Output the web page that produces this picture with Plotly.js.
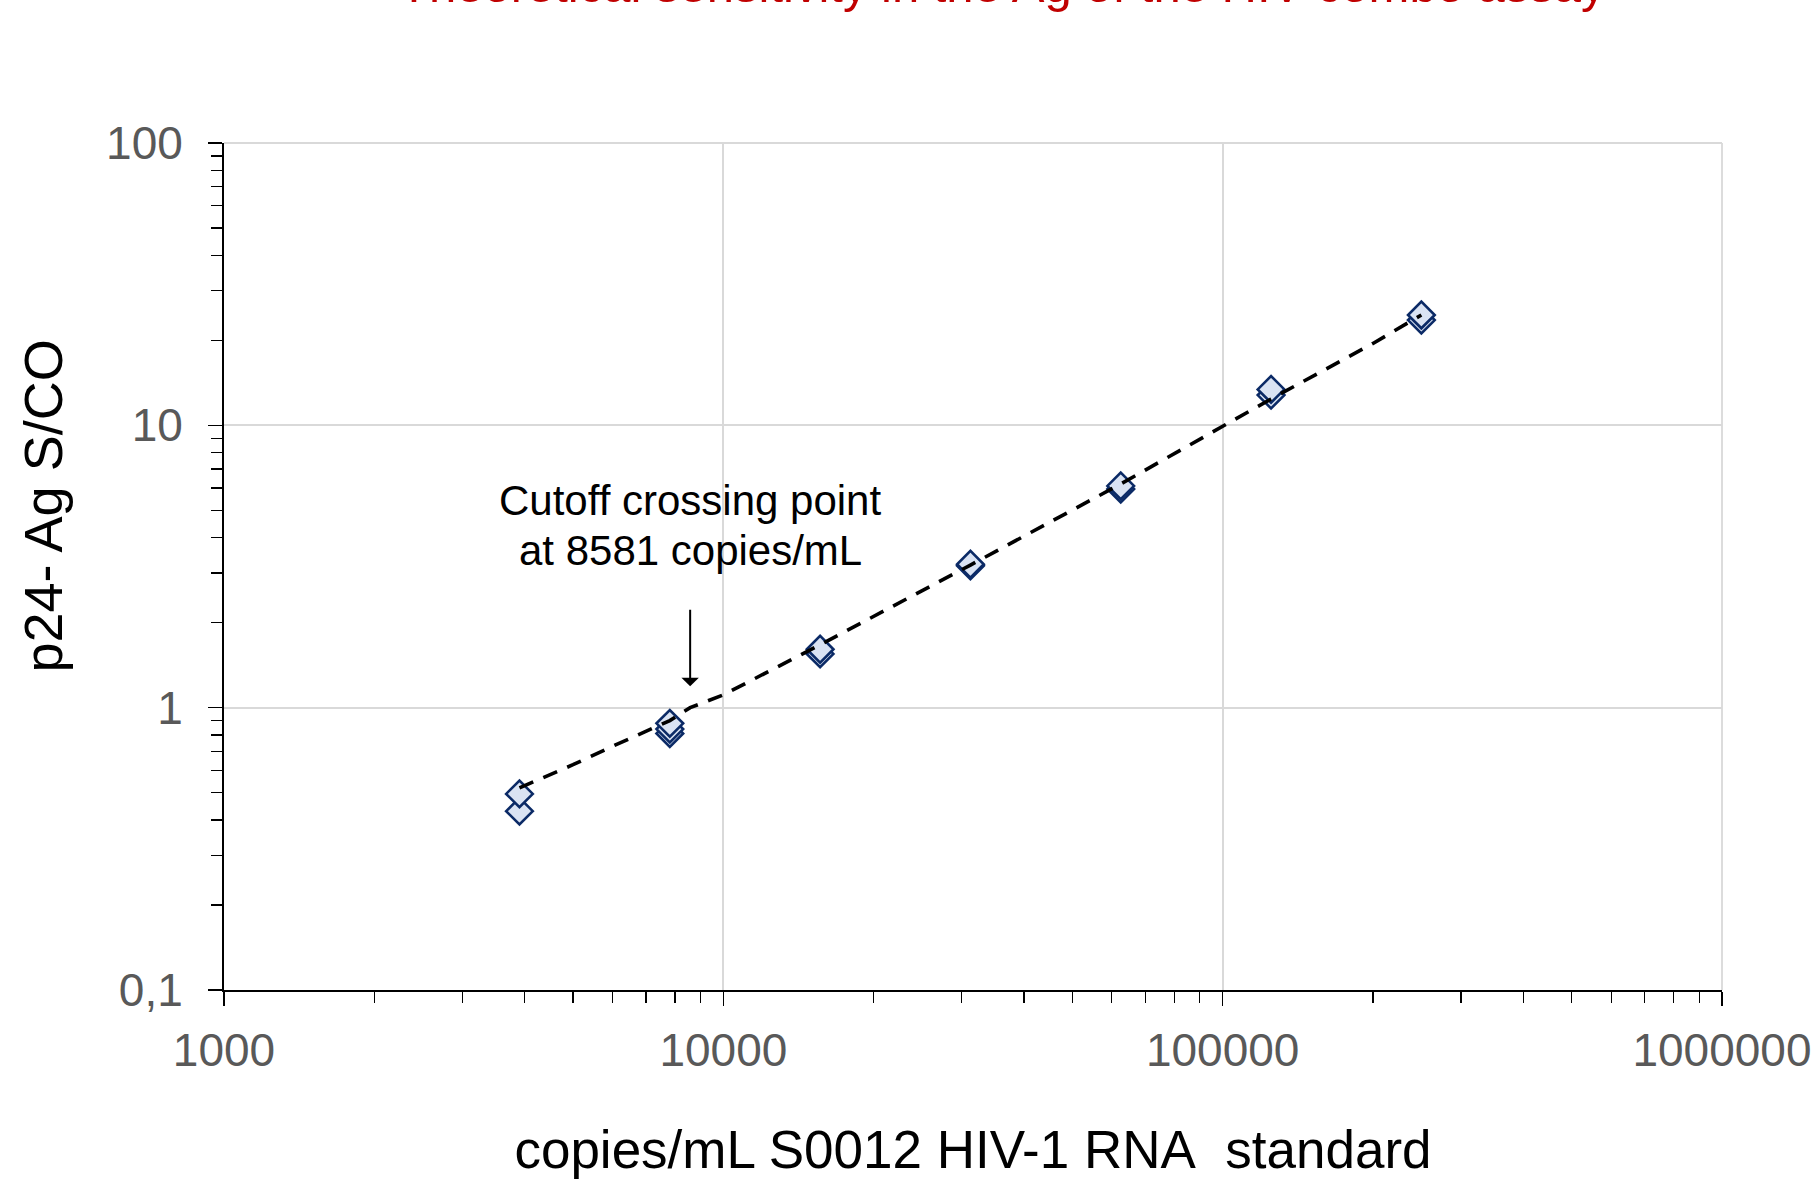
<!DOCTYPE html>
<html>
<head>
<meta charset="utf-8">
<script src="https://cdn.plot.ly/plotly-3.0.1.min.js"></script>
<style>html,body{margin:0;padding:0;background:#fff;}#chart{width:1818px;height:1190px;}</style>
</head>
<body>
<div id="chart"></div>
<script>
// Measured replicates (copies/mL and p24 Ag S/CO)
const copiesPerMl = [3906, 3906, 7813, 7813, 7813, 15625, 15625, 31250, 31250, 62500, 62500, 125000, 125000, 250000, 250000];
const sco = [0.43, 0.495, 0.81, 0.84, 0.88, 1.55, 1.61, 3.18, 3.22, 5.95, 6.1, 12.8, 13.4, 23.6, 24.6];

// Trendline
const trendX = [3906, 5000, 6000, 7813, 8581, 10000, 15625, 31250, 62500, 125000, 200000, 250000];
const trendY = [0.52, 0.628, 0.73, 0.90, 1.0, 1.11, 1.67, 3.2, 6.2, 12.4, 19.5, 24.6];

// Cutoff crossing annotation
const cutoffCopies = 8581;
const arrowTipSco = 1.19;

// Tick labels
const xTickVals = [1000, 10000, 100000, 1000000];
const xTickText = ['1000', '10000', '100000', '1000000'];
const yTickVals = [0.1, 1, 10, 100];
const yTickText = ['0,1', '1', '10', '100'];

const titleText = 'Theoretical sensitivity in the Ag of the HIV combo assay';
const xTitle = 'copies/mL S0012 HIV-1 RNA\u00a0 standard';
const yTitle = 'p24- Ag S/CO';
const noteLine1 = 'Cutoff crossing point';
const noteLine2 = 'at 8581 copies/mL';

const FONT = 'Liberation Sans, Arial, sans-serif';
const GRID = '#d9d9d9';

const traces = [
  {
    x: copiesPerMl, y: sco, type: 'scatter', mode: 'markers',
    marker: {symbol: 'diamond', size: 20.5, color: '#dae3f3', line: {color: '#0b2a66', width: 2.6}},
    hoverinfo: 'x+y', showlegend: false
  },
  {
    x: trendX, y: trendY, type: 'scatter', mode: 'lines',
    line: {color: '#000000', width: 3.6, dash: '15px,11px'},
    hoverinfo: 'skip', showlegend: false
  }
];

const axisCommon = {
  type: 'log',
  showline: true, linecolor: '#000000', linewidth: 2,
  showgrid: true, gridcolor: GRID, gridwidth: 1.8,
  zeroline: false,
  ticks: 'outside', ticklen: 14, tickwidth: 1.5, tickcolor: '#000000',
  tickmode: 'array',
  tickfont: {family: FONT, size: 46, color: '#595959'},
  minor: {ticks: 'outside', ticklen: 11, tickwidth: 1.2, tickcolor: '#000000', dtick: 'D1', showgrid: false}
};

const layout = {
  width: 1818, height: 1190,
  paper_bgcolor: '#ffffff', plot_bgcolor: '#ffffff',
  margin: {l: 224, r: 96, t: 143, b: 200, pad: 0},
  font: {family: FONT},
  showlegend: false,
  xaxis: Object.assign({}, axisCommon, {
    range: [3, 6],
    tickvals: xTickVals, ticktext: xTickText,
    ticklabelstandoff: 5,
    title: {text: xTitle, font: {family: FONT, size: 53, color: '#000000'}, standoff: 56}
  }),
  yaxis: Object.assign({}, axisCommon, {
    range: [-1, 2],
    tickvals: yTickVals, ticktext: yTickText,
    ticklabelstandoff: 16
  }),
  shapes: [
    {type: 'line', xref: 'paper', yref: 'paper', x0: 0, x1: 1, y0: 1, y1: 1, line: {color: GRID, width: 1.8}, layer: 'below'},
    {type: 'line', xref: 'paper', yref: 'paper', x0: 1, x1: 1, y0: 0, y1: 1, line: {color: GRID, width: 1.8}, layer: 'below'}
  ],
  annotations: [
    {
      text: titleText, xref: 'paper', yref: 'paper', x: 0.52, y: 1.1868,
      xanchor: 'center', yanchor: 'middle', showarrow: false,
      font: {family: FONT, size: 49, color: '#c00000'}
    },
    {
      text: yTitle, xref: 'paper', yref: 'paper', x: -0.121, y: 0.5717,
      xanchor: 'center', yanchor: 'middle', textangle: -90, showarrow: false,
      font: {family: FONT, size: 54, color: '#000000'}
    },
    {
      text: noteLine1, xref: 'x', yref: 'paper', x: Math.log10(cutoffCopies), y: 0.5777,
      xanchor: 'center', yanchor: 'middle', showarrow: false,
      font: {family: FONT, size: 42, color: '#000000'}
    },
    {
      text: noteLine2, xref: 'x', yref: 'paper', x: Math.log10(cutoffCopies), y: 0.5189,
      xanchor: 'center', yanchor: 'middle', showarrow: false,
      font: {family: FONT, size: 42, color: '#000000'}
    },
    {
      text: '', xref: 'x', yref: 'y', x: Math.log10(cutoffCopies), y: Math.log10(arrowTipSco),
      showarrow: true, ax: 0, ay: -78, arrowhead: 1, arrowsize: 1.45, arrowwidth: 2,
      arrowcolor: '#000000', standoff: 0
    }
  ]
};

Plotly.newPlot('chart', traces, layout, {displayModeBar: false, staticPlot: true});
</script>
</body>
</html>
